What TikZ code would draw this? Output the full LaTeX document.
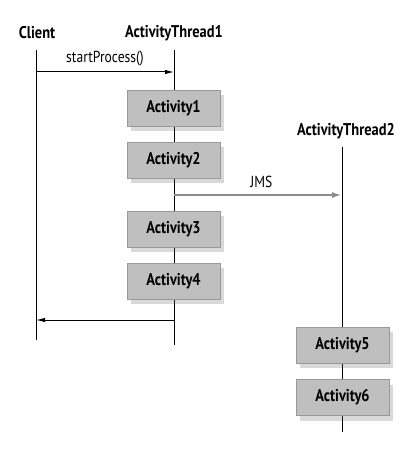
\documentclass[tikz,border=0pt]{standalone}
\usepackage{fontspec}
\setmainfont{PT Sans}[FakeStretch=0.85]
\usetikzlibrary{arrows.meta,shadows}
\begin{document}
\begin{tikzpicture}[x=1pt,y=-1pt,
  lifeline/.style={draw=black,line width=1pt},
  msg/.style={draw=black,line width=1pt,-{Latex[length=9pt,width=4.5pt]}},
  jms/.style={draw=black!45,line width=2.4pt,-{Latex[length=10pt,width=6pt]}},
  actor/.style={font=\fontsize{17}{19}\selectfont\bfseries,inner sep=0pt},
  actbox/.style={draw=black!40,fill=black!25,line width=0.8pt,minimum width=93pt,minimum height=36pt,
     font=\fontsize{17}{19}\selectfont\bfseries,inner sep=0pt,
     drop shadow={shadow xshift=4pt,shadow yshift=-5pt,opacity=0.25,fill=black!60}},
  lbl/.style={font=\fontsize{16}{18}\selectfont,inner sep=0pt}]
\useasboundingbox (0,0) rectangle (419,457);
\node[actor] (client) at (37,33) {Client};
\node[actor] (at1) at (174,33) {ActivityThread1};
\node[actor] (at2) at (346,131) {ActivityThread2};
\coordinate (c1) at (36,50);
\coordinate (c2) at (36,340);
\coordinate (t1a) at (174,50);
\coordinate (t1b) at (174,345);
\coordinate (t2a) at (342,147);
\coordinate (t2b) at (342,432);
\draw[lifeline] (c1) -- (c2);
\draw[lifeline] (t1a) -- (t1b);
\draw[lifeline] (t2a) -- (t2b);
\coordinate (m1s) at (36,72);
\coordinate (m1e) at (174,72);
\draw[msg] (m1s) -- node[lbl,above=5pt] (sp) {startProcess()} (m1e);
\coordinate (js) at (174,195);
\coordinate (je) at (342,195);
\draw[jms] (js) -- node[lbl,above=6pt,pos=0.52] (jl) {JMS} (je);
\coordinate (rs) at (174,320);
\coordinate (re) at (36,320);
\draw[msg] (rs) -- (re);
\node[actbox] (a1) at (173.5,108) {Activity1};
\node[actbox] (a2) at (173.5,160) {Activity2};
\node[actbox] (a3) at (173.5,229) {Activity3};
\node[actbox] (a4) at (173.5,281) {Activity4};
\node[actbox] (a5) at (342.5,345) {Activity5};
\node[actbox] (a6) at (342.5,397.5) {Activity6};
\end{tikzpicture}
\end{document}
